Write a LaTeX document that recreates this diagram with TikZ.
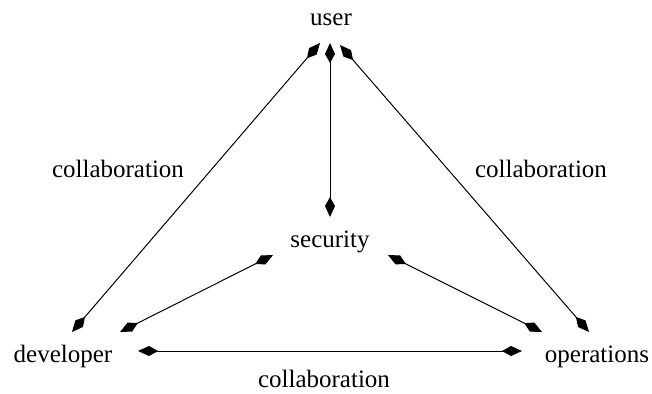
\documentclass[tikz,border=0pt]{standalone}
\usepackage{fontspec}
\setmainfont{Liberation Serif}
\usetikzlibrary{arrows.meta,calc}

\begin{document}
\begin{tikzpicture}[x=0.5pt,y=-0.5pt,
    every node/.style={font=\fontsize{12.5}{15}\selectfont,anchor=base,inner sep=0pt},
    conn/.style={{Kite[length=10pt,width=5pt,inset=4.5pt]}-{Kite[length=10pt,width=5pt,inset=4.5pt]},line width=0.5pt}]
  \useasboundingbox (0,0) rectangle (652,393);
  % the four parties
  \node (user) at (331,25) {user};
  \node (security) at (330,247) {security};
  \node (developer) at (63,362) {developer};
  \node (operations) at (597,362) {operations};
  % labels
  \node (collabl) at (118,177) {collaboration};
  \node (collabr) at (541,177) {collaboration};
  \node (collabb) at (324,387) {collaboration};
  % connectors
  \draw[conn] ([shift={(-11,18)}]user.base) -- ([shift={(9,-30)}]developer.base);
  \draw[conn] ([shift={(-1,18)}]user.base) -- ([shift={(0,-30)}]security.base);
  \draw[conn] ([shift={(9,20)}]user.base) -- ([shift={(-8,-30)}]operations.base);
  \draw[conn] ([shift={(-57,8)}]security.base) -- ([shift={(57,-30)}]developer.base);
  \draw[conn] ([shift={(58,8)}]security.base) -- ([shift={(-55,-30)}]operations.base);
  \draw[conn] ([shift={(75,-11)}]developer.base) -- ([shift={(-75,-11)}]operations.base);
\end{tikzpicture}
\end{document}
